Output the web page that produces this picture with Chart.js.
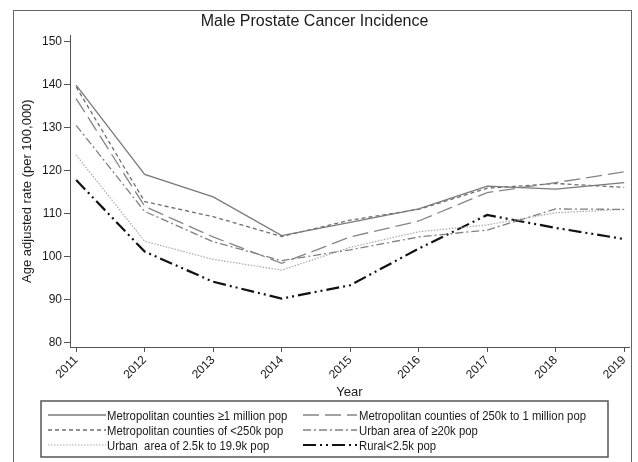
<!DOCTYPE html>
<html>
<head>
<meta charset="utf-8">
<script src="https://cdn.jsdelivr.net/npm/chart.js@4"></script>
<style>
  body { margin: 0; background: #fff; }
  #wrap { position: relative; width: 638px; height: 462px; }
  #frame { position: absolute; left: 13px; top: 10px; width: 619px; height: 470px; border: 1.5px solid #666; box-sizing: border-box; }
  canvas { position: absolute; left: 0; top: 0; }
</style>
</head>
<body>
<div id="wrap">
  <div id="frame"></div>
  <canvas id="chart" width="638" height="462"></canvas>
</div>
<script>
// values
const years = [2011, 2012, 2013, 2014, 2015, 2016, 2017, 2018, 2019];
const yTicks = [80, 90, 100, 110, 120, 130, 140, 150];

const metro1M = [139.8, 119.1, 113.9, 104.9, 108.0, 111.1, 116.4, 115.7, 117.2];
const metro250kTo1M = [136.7, 111.7, 104.6, 98.5, 104.6, 108.3, 114.9, 117.2, 119.7];
const metroUnder250k = [139.4, 112.8, 109.3, 104.7, 108.5, 111.0, 115.9, 117.0, 116.1];
const urban20k = [130.5, 110.5, 103.5, 99.1, 101.6, 104.6, 106.2, 111.1, 111.0];
const urban2k = [123.6, 103.6, 99.4, 96.9, 102.2, 105.8, 107.4, 110.2, 111.0];
const rural = [117.8, 101.2, 94.2, 90.3, 93.4, 101.9, 109.7, 106.7, 104.1];

const seriesLabels = [
    'Metropolitan counties \u22651 million pop',
    'Metropolitan counties of 250k to 1 million pop',
    'Metropolitan counties of <250k pop',
    'Urban area of \u226520k pop',
    'Urban  area of 2.5k to 19.9k pop',
    'Rural<2.5k pop'
];

const FONT = "'Liberation Sans', Arial, sans-serif";

function pts(arr) {
    return years.map((yr, i) => ({ x: yr, y: arr[i] }));
}

function ds(label, arr, color, dash, width) {
    return {
        label: label,
        data: pts(arr),
        borderColor: color,
        borderDash: dash,
        borderWidth: width,
        pointRadius: 0,
        tension: 0,
        fill: false
    };
}

const datasets = [
    ds(seriesLabels[0], metro1M, '#7a7a7a', [], 1.3),
    ds(seriesLabels[1], metro250kTo1M, '#858585', [16, 6], 1.3),
    ds(seriesLabels[2], metroUnder250k, '#6e6e6e', [4, 3], 1.3),
    ds(seriesLabels[3], urban20k, '#808080', [8, 3, 2, 3], 1.3),
    ds(seriesLabels[4], urban2k, '#a8a8a8', [1.5, 1.5], 1.2),
    ds(seriesLabels[5], rural, '#111111', [13, 4, 2, 4, 2, 4], 2.2)
];

// boxed two-column legend like the original (text squeezed, the original uses a narrow face)
const boxLegend = {
    id: 'boxLegend',
    afterDraw(chart) {
        const ctx = chart.ctx;
        ctx.save();
        ctx.strokeStyle = '#555';
        ctx.lineWidth = 1.5;
        ctx.strokeRect(41, 401, 567, 56);
        const order = [[0, 2, 4], [1, 3, 5]];
        const cols = [{ x0: 48, x1: 106, tx: 107 }, { x0: 303, x1: 357, tx: 359 }];
        const rows = [415, 430, 445];
        order.forEach((col, c) => {
            col.forEach((di, r) => {
                const d = chart.data.datasets[di];
                ctx.beginPath();
                ctx.strokeStyle = d.borderColor;
                ctx.lineWidth = d.borderWidth;
                ctx.setLineDash(d.borderDash);
                ctx.moveTo(cols[c].x0, rows[r]);
                ctx.lineTo(cols[c].x1, rows[r]);
                ctx.stroke();
                ctx.setLineDash([]);
                ctx.save();
                ctx.translate(cols[c].tx, rows[r] + 1);
                ctx.scale(0.87, 1);
                ctx.font = '13px ' + FONT;
                ctx.fillStyle = '#1a1a1a';
                ctx.textBaseline = 'middle';
                ctx.fillText(d.label, 0, 0);
                ctx.restore();
            });
        });
        ctx.restore();
    }
};

const ctx = document.getElementById('chart').getContext('2d');
new Chart(ctx, {
    type: 'line',
    data: { datasets: datasets },
    options: {
        responsive: false,
        animation: false,
        layout: { padding: { left: 0, right: 9, top: 0, bottom: 62 } },
        plugins: {
            legend: { display: false },
            tooltip: { enabled: false },
            title: {
                display: true,
                text: 'Male Prostate Cancer Incidence',
                color: '#1a1a1a',
                font: { family: FONT, size: 16, weight: 'normal' },
                padding: { top: 12, bottom: 4 }
            }
        },
        scales: {
            x: {
                type: 'linear',
                min: 2010.91,
                max: 2019.07,
                afterBuildTicks: (s) => { s.ticks = years.map(v => ({ value: v })); },
                afterFit: (s) => { s.height = 53; },
                grid: { drawOnChartArea: false, tickLength: 5, color: '#555' },
                border: { color: '#555', width: 1 },
                ticks: {
                    color: '#1a1a1a',
                    font: { family: FONT, size: 12 },
                    maxRotation: 45,
                    minRotation: 45,
                    padding: 1,
                    callback: (v) => String(v)
                },
                title: {
                    display: true,
                    text: 'Year',
                    color: '#1a1a1a',
                    font: { family: FONT, size: 13 },
                    padding: { top: 0, bottom: 0 }
                }
            },
            y: {
                min: 79.07,
                max: 151.4,
                afterBuildTicks: (s) => { s.ticks = yTicks.map(v => ({ value: v })); },
                afterFit: (s) => { s.width = 70; },
                grid: { drawOnChartArea: false, tickLength: 6, color: '#555' },
                border: { color: '#555', width: 1 },
                ticks: {
                    color: '#1a1a1a',
                    font: { family: FONT, size: 12 },
                    padding: 2
                },
                title: {
                    display: true,
                    text: 'Age adjusted rate (per 100,000)',
                    color: '#1a1a1a',
                    font: { family: FONT, size: 13 },
                    padding: { top: 20, bottom: 0 }
                }
            }
        }
    },
    plugins: [boxLegend]
});
</script>
</body>
</html>
